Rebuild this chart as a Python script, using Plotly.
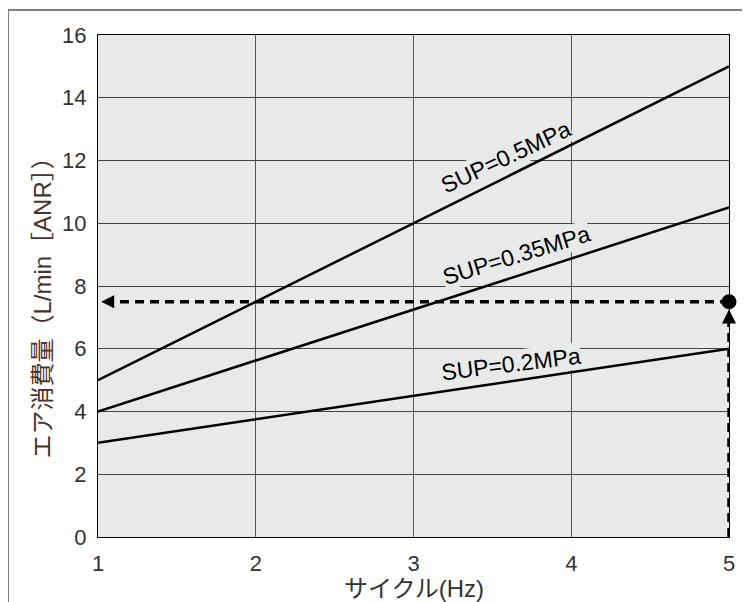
import plotly.graph_objects as go

# Data
cycles = [1, 2, 3, 4, 5]
sup_05 = [5.0, 7.5, 10.0, 12.5, 15.0]
sup_035 = [4.0, 5.625, 7.25, 8.875, 10.5]
sup_02 = [3.0, 3.75, 4.5, 5.25, 6.0]
series_names = ["SUP=0.5MPa", "SUP=0.35MPa", "SUP=0.2MPa"]
# label anchor (x, y, angle) for each series
label_x = [3.586, 3.656, 3.618]
label_y = [12.1, 8.98, 5.5]
label_angle = [-25, -17, -7]

# Reading example
read_x = 5
read_y = 7.5
x_ticks = [1, 2, 3, 4, 5]
y_ticks = [0, 2, 4, 6, 8, 10, 12, 14, 16]

FONT = "Liberation Sans, Arial, Noto Sans CJK JP, sans-serif"
BG = "#e8e9e9"

fig = go.Figure()
for ys in (sup_05, sup_035, sup_02):
    fig.add_trace(go.Scatter(x=cycles, y=ys, mode="lines",
                             line=dict(color="black", width=2.5),
                             showlegend=False, hoverinfo="skip"))

# dashed reading lines
fig.add_trace(go.Scatter(x=[read_x, cycles[0] + 0.05], y=[read_y, read_y], mode="lines",
                         line=dict(color="black", width=3.5, dash="9px,6px"),
                         showlegend=False, hoverinfo="skip"))
fig.add_trace(go.Scatter(x=[read_x, read_x], y=[0, read_y - 0.45], mode="lines",
                         line=dict(color="black", width=3.5, dash="9px,6px"),
                         showlegend=False, hoverinfo="skip", cliponaxis=False))
# arrow heads
fig.add_trace(go.Scatter(x=[cycles[0] + 0.02], y=[read_y], mode="markers",
                         marker=dict(symbol="arrow-left", size=13, color="black"),
                         showlegend=False, hoverinfo="skip", cliponaxis=False))
fig.add_trace(go.Scatter(x=[read_x], y=[read_y - 0.25], mode="markers",
                         marker=dict(symbol="arrow-up", size=14, color="black"),
                         showlegend=False, hoverinfo="skip", cliponaxis=False))
fig.add_trace(go.Scatter(x=[read_x], y=[read_y], mode="markers",
                         marker=dict(symbol="circle", size=15, color="black"),
                         showlegend=False, hoverinfo="skip", cliponaxis=False))

for name, lx, ly, ang in zip(series_names, label_x, label_y, label_angle):
    fig.add_annotation(x=lx, y=ly, text=name, showarrow=False, textangle=ang,
                       bgcolor=BG, borderpad=0,
                       font=dict(family=FONT, size=23, color="black"))

# axis titles
fig.add_annotation(xref="paper", yref="paper", x=-0.1125, y=0.468,
                   text="エア消費量（L/min［ANR］）", textangle=-90, showarrow=False,
                   font=dict(family="Liberation Sans, Noto Sans CJK JP", size=24, color="#4a3228"))
fig.add_annotation(xref="paper", yref="paper", x=0.5, y=-0.1016, yanchor="middle",
                   text="サイクル(Hz)", showarrow=False,
                   font=dict(family="Liberation Sans, Noto Sans CJK JP", size=24, color="#333333"))

# outer frame
fig.add_shape(type="rect", xref="paper", yref="paper",
              x0=-0.1426, y0=-0.3, x1=1.2, y1=1.0498,
              line=dict(color="#808080", width=2), layer="below")

fig.update_xaxes(range=[1, 5], tickvals=x_ticks, showgrid=True, gridcolor="#555555",
                 gridwidth=1, showline=True, linecolor="black", linewidth=1.2, mirror=True,
                 zeroline=False, ticks="", ticklabelstandoff=6,
                 tickfont=dict(family=FONT, size=22, color="#333333"))
fig.update_yaxes(range=[0, 16], tickvals=y_ticks, showgrid=True, gridcolor="#444444",
                 gridwidth=1, showline=True, linecolor="black", linewidth=1.2, mirror=True,
                 zeroline=False, ticks="", ticklabelstandoff=6,
                 tickfont=dict(family=FONT, size=22, color="#333333"))

fig.update_layout(width=742, height=594, margin=dict(l=90, r=21, t=27, b=65),
                  plot_bgcolor=BG, paper_bgcolor="white", showlegend=False)

fig.write_html("out.html")
